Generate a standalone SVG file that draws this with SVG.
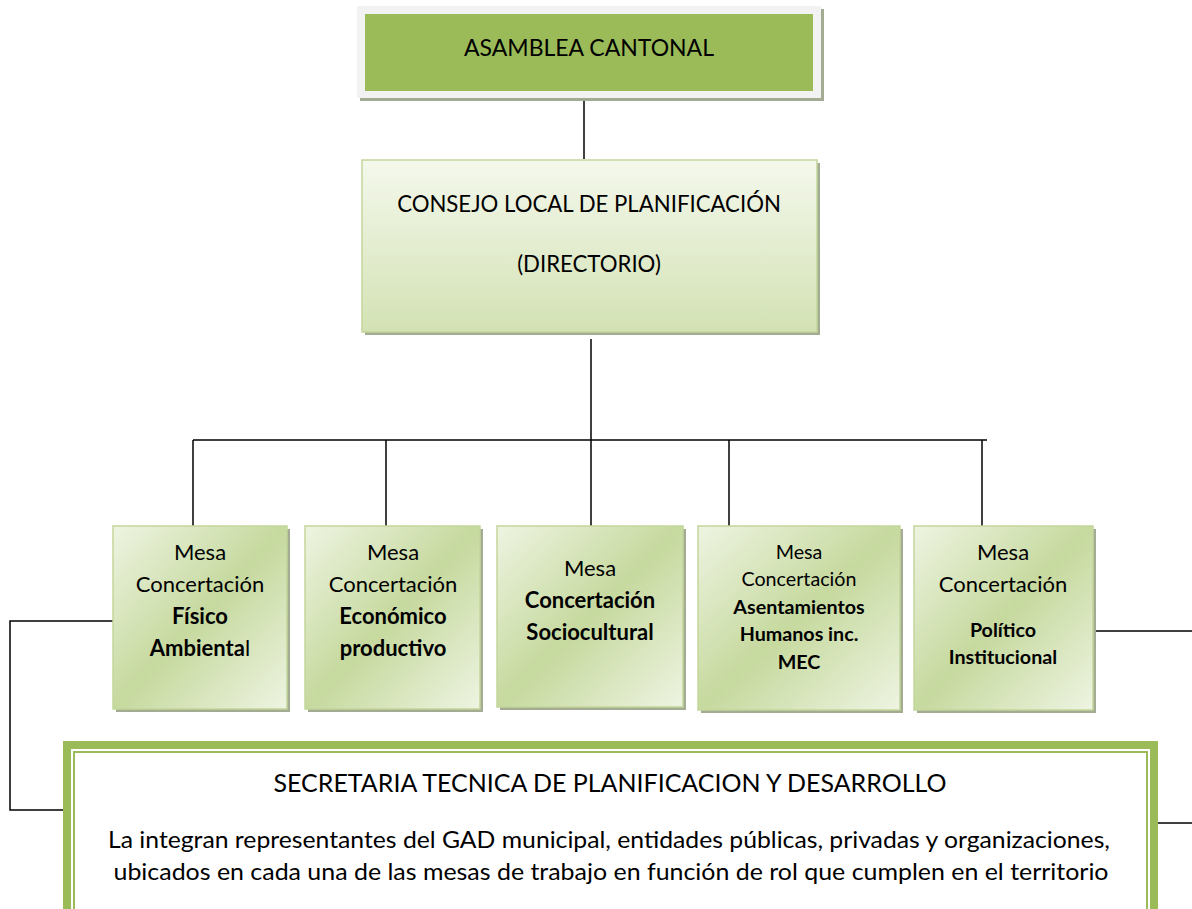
<svg xmlns="http://www.w3.org/2000/svg" width="1192" height="909" viewBox="0 0 1192 909">
<defs>
<linearGradient id="gMesa" x1="0" y1="0" x2="1" y2="1">
<stop offset="0" stop-color="#eef4e2"/>
<stop offset="0.5" stop-color="#c6d99e"/>
<stop offset="1" stop-color="#eef4e2"/>
</linearGradient>
<linearGradient id="gCons" x1="0" y1="0" x2="0" y2="1">
<stop offset="0" stop-color="#f4f8ec"/>
<stop offset="1" stop-color="#d3e2b4"/>
</linearGradient>
<style>
text{font-family:Lato,"Open Sans","Liberation Sans",sans-serif;fill:#000;text-anchor:middle}
.shadow{fill:#a3ab92}
.mesa{fill:url(#gMesa);stroke:#c3d69b;stroke-width:1.5}
.conn{stroke:#000;stroke-width:1.5;fill:none}
.b{font-weight:bold}
.t22{font-size:22px}
.t20{font-size:19.7px}
</style>
</defs>
<g id="connectors">
<line class="conn" x1="584" y1="100" x2="584" y2="159"/>
<line class="conn" x1="591" y1="339" x2="591" y2="440"/>
<line class="conn" x1="193" y1="440" x2="987" y2="440"/>
<line class="conn" x1="193" y1="440" x2="193" y2="526"/>
<line class="conn" x1="386" y1="440" x2="386" y2="526"/>
<line class="conn" x1="591" y1="440" x2="591" y2="526"/>
<line class="conn" x1="729" y1="440" x2="729" y2="526"/>
<line class="conn" x1="982" y1="440" x2="982" y2="526"/>
<polyline class="conn" points="113,621 10,621 10,810 63,810"/>
<line class="conn" x1="1093" y1="631" x2="1192" y2="631"/>
<line class="conn" x1="1158" y1="823" x2="1192" y2="823"/>
</g>
<g id="asamblea">
<rect x="360" y="9" width="464" height="92" class="shadow"/>
<rect x="357" y="6" width="464" height="92" fill="#f2f2f2"/>
<rect x="365" y="14" width="448" height="77" fill="#9bbb59"/>
<text x="589" y="56" style="font-size:23px">ASAMBLEA CANTONAL</text>
</g>
<g id="consejo">
<rect x="365" y="163" width="455" height="172" class="shadow"/>
<rect x="362" y="160" width="455" height="172" fill="url(#gCons)" stroke="#c3d69b" stroke-width="1.5"/>
<text x="589" y="212" style="font-size:22.2px">CONSEJO LOCAL DE PLANIFICACIÓN</text>
<text x="589" y="272" style="font-size:22.2px">(DIRECTORIO)</text>
</g>
<g id="mesa1">
<rect x="116" y="529" width="174" height="183" class="shadow"/>
<rect x="113" y="526" width="174" height="183" class="mesa"/>
<text x="200" y="560" class="t22">Mesa</text>
<text x="200" y="592" class="t22">Concertación</text>
<text x="200" y="624" class="t22 b">Físico</text>
<text x="200" y="656" class="t22"><tspan class="b">Ambienta</tspan>l</text>
</g>
<g id="mesa2">
<rect x="308" y="529" width="175" height="183" class="shadow"/>
<rect x="305" y="526" width="175" height="183" class="mesa"/>
<text x="393" y="560" class="t22">Mesa</text>
<text x="393" y="592" class="t22">Concertación</text>
<text x="393" y="624" class="t22 b">Económico</text>
<text x="393" y="656" class="t22 b">productivo</text>
</g>
<g id="mesa3">
<rect x="500" y="529" width="186" height="181" class="shadow"/>
<rect x="497" y="526" width="186" height="181" class="mesa"/>
<text x="590" y="576" class="t22">Mesa</text>
<text x="590" y="608" class="t22 b">Concertación</text>
<text x="590" y="640" class="t22 b">Sociocultural</text>
</g>
<g id="mesa4">
<rect x="701" y="529" width="202" height="184" class="shadow"/>
<rect x="698" y="526" width="202" height="184" class="mesa"/>
<text x="799" y="559" class="t20">Mesa</text>
<text x="799" y="586" class="t20">Concertación</text>
<text x="799" y="614" class="t20 b">Asentamientos</text>
<text x="799" y="641" class="t20 b">Humanos inc.</text>
<text x="799" y="669" class="t20 b">MEC</text>
</g>
<g id="mesa5">
<rect x="917" y="529" width="179" height="184" class="shadow"/>
<rect x="914" y="526" width="179" height="184" class="mesa"/>
<text x="1003" y="560" class="t22">Mesa</text>
<text x="1003" y="592" class="t22">Concertación</text>
<text x="1003" y="637" class="t20 b">Político</text>
<text x="1003" y="664" class="t20 b">Institucional</text>
</g>
<g id="secretaria">
<rect x="63" y="741" width="1095" height="180" fill="#9bbb59"/>
<rect x="71" y="749" width="1079" height="172" fill="#ffffff"/>
<rect x="74" y="752" width="1073" height="170" fill="none" stroke="#9bbb59" stroke-width="2"/>
<text x="610" y="792" style="font-size:25px" textLength="673" lengthAdjust="spacingAndGlyphs">SECRETARIA TECNICA DE PLANIFICACION Y DESARROLLO</text>
<text x="609" y="848" style="font-size:24px" textLength="1002" lengthAdjust="spacingAndGlyphs">La integran representantes del GAD municipal, entidades públicas, privadas y organizaciones,</text>
<text x="611" y="880" style="font-size:24px" textLength="995" lengthAdjust="spacingAndGlyphs">ubicados en cada una de las mesas de trabajo en función de rol que cumplen en el territorio</text>
</g>
</svg>
